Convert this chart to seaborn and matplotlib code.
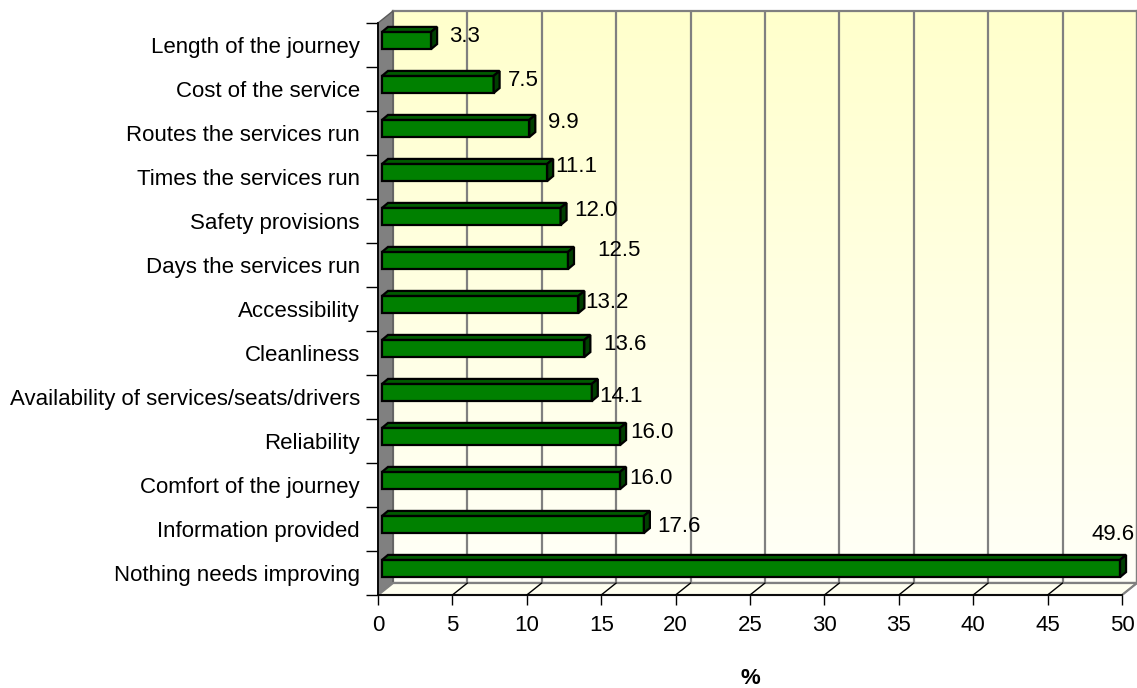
import numpy as np
import pandas as pd
import matplotlib
matplotlib.use("Agg")
import matplotlib.pyplot as plt
from matplotlib.colors import LinearSegmentedColormap
from matplotlib.patches import Polygon
from matplotlib.transforms import ScaledTranslation
import seaborn as sns

# Survey results: what passengers think needs improving (%)
categories = [
    "Length of the journey",
    "Cost of the service",
    "Routes the services run",
    "Times the services run",
    "Safety provisions",
    "Days the services run",
    "Accessibility",
    "Cleanliness",
    "Availability of services/seats/drivers",
    "Reliability",
    "Comfort of the journey",
    "Information provided",
    "Nothing needs improving",
]
percentages = [3.3, 7.5, 9.9, 11.1, 12.0, 12.5, 13.2, 13.6, 14.1, 16.0, 16.0, 17.6, 49.6]
x_ticks = [0, 5, 10, 15, 20, 25, 30, 35, 40, 45, 50]
x_label = "%"

# label placement relative to the bar end, in pixels (right, up)
label_dx = [22, 18, 23, 12, 18, 33, 11, 23, 11, 14, 13, 17, -25]
label_dy = [9, 9, 10, 11, 11, 15, 6, 8, 0, 9, 7, 2, 38]

df = pd.DataFrame({"category": categories, "pct": percentages})

sns.set_style("white")
plt.rcParams["font.family"] = ["Liberation Sans", "DejaVu Sans"]
plt.rcParams["text.color"] = "black"

FS = 16
W, H, DPI = 1137, 688, 100
fig = plt.figure(figsize=(W / DPI, H / DPI), dpi=DPI)

# front plane geometry (pixels)
fx0, fy_bot, fw, fh = 378, 595, 744, 572
depth_x, depth_y = 15, 12  # wall depth offset
XMAX = 50
NCAT = len(categories)
sx = XMAX / fw
sy = NCAT / fh

# back wall with a soft vertical gradient
back = fig.add_axes([(fx0 + depth_x) / W, (H - fy_bot + depth_y) / H, fw / W, fh / H], zorder=0)
grad = LinearSegmentedColormap.from_list("wall", ["#FFFFF8", "#FFFFCC"])
back.imshow(np.linspace(0, 1, 256).reshape(-1, 1)[::-1], aspect="auto", cmap=grad,
            extent=[0, XMAX, NCAT - 0.5, -0.5], zorder=0)
back.set_xlim(0, XMAX)
back.set_ylim(NCAT - 0.5, -0.5)
for k in x_ticks[1:]:
    back.axvline(k, color="#808080", lw=1.6, zorder=1)
back.set_xticks([])
back.set_yticks([])
for s in back.spines.values():
    s.set_color("#808080")
    s.set_linewidth(1.6)

# front axes carrying the bars
ax = fig.add_axes([fx0 / W, (H - fy_bot) / H, fw / W, fh / H], zorder=1)
ax.patch.set_alpha(0)

sns.barplot(data=df, x="pct", y="category", orient="h", color="#008000",
            saturation=1, edgecolor="black", linewidth=1.6, width=0.39, ax=ax, zorder=3)

ax.set_xlim(0, XMAX)
ax.set_ylim(NCAT - 0.5, -0.5)

dxw, dyw = depth_x * sx, depth_y * sy
# left side wall
wall = Polygon([(0, -0.5), (0, NCAT - 0.5), (dxw, NCAT - 0.5 - dyw), (dxw, -0.5 - dyw)],
               closed=True, facecolor="#808080", edgecolor="#5A5A5A", lw=1.0,
               clip_on=False, zorder=1)
ax.add_patch(wall)
# floor
yb = NCAT - 0.5
floor = Polygon([(0, yb), (XMAX, yb), (XMAX + dxw, yb - dyw), (dxw, yb - dyw)],
                closed=True, facecolor="#FFFFF0", edgecolor="#808080", lw=1.6,
                clip_on=False, zorder=1)
ax.add_patch(floor)
for k in x_ticks[1:]:
    ax.plot([k, k + dxw], [yb, yb - dyw], color="black" if k < XMAX else "#808080",
            lw=1.0, clip_on=False, zorder=2)

# give each bar a 3D look: shifted face plus top and side faces
shift = ax.transData + ScaledTranslation(4 / DPI, 4.5 / DPI, fig.dpi_scale_trans)
ddx, ddy = 6 * sx, 5 * sy
for p in list(ax.patches):
    if p in (wall, floor):
        continue
    p.set_transform(shift)
    x0, y0, w, h = p.get_x(), p.get_y(), p.get_width(), p.get_height()
    x1, y1 = x0 + w, y0 + h
    top = Polygon([(x0, y0), (x1, y0), (x1 + ddx, y0 - ddy), (x0 + ddx, y0 - ddy)],
                  closed=True, facecolor="#005C00", edgecolor="black", lw=1.6,
                  transform=shift, clip_on=False, zorder=3)
    side = Polygon([(x1, y0), (x1, y1), (x1 + ddx, y1 - ddy), (x1 + ddx, y0 - ddy)],
                   closed=True, facecolor="#003F00", edgecolor="black", lw=1.6,
                   transform=shift, clip_on=False, zorder=3)
    ax.add_patch(top)
    ax.add_patch(side)

# value labels
for i, v in enumerate(percentages):
    ax.annotate(f"{v:.1f}", xy=(v, i), xytext=(label_dx[i], label_dy[i]),
                textcoords="offset pixels", ha="left", va="center",
                fontsize=FS, color="black", zorder=5, annotation_clip=False)

# axes styling
for side_name in ("top", "right"):
    ax.spines[side_name].set_visible(False)
for side_name in ("left", "bottom"):
    ax.spines[side_name].set_color("black")
    ax.spines[side_name].set_linewidth(1.3)
    ax.spines[side_name].set_zorder(4)

ax.set_xticks(x_ticks)
ax.set_xticklabels([str(t) for t in x_ticks])
ax.set_yticks(range(NCAT))
ax.set_yticklabels(categories)
ax.set_yticks(np.arange(-0.5, NCAT, 1), minor=True)
ax.tick_params(axis="x", which="major", direction="out", length=7.5, width=1.0,
               color="black", pad=7, labelsize=FS, labelcolor="black", bottom=True)
ax.tick_params(axis="y", which="major", length=0, pad=13, labelsize=FS, labelcolor="black")
ax.tick_params(axis="y", which="minor", direction="out", length=9, width=1.0,
               color="black", left=True)
ax.set_xlabel("")
ax.set_ylabel("")
ax.grid(False)

fig.text(750 / W, 1 - 678 / H, x_label, ha="center", va="center",
         fontsize=FS, fontweight="bold", color="black")

fig.savefig("out.png", dpi=DPI, facecolor="white")
